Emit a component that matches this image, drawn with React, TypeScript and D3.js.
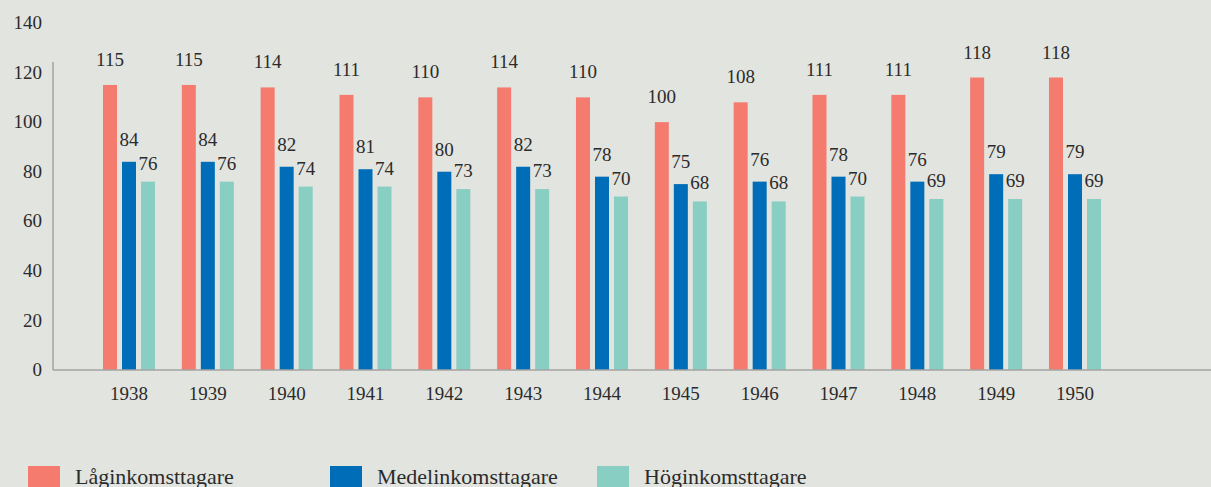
import React from "react";
import * as d3 from "d3";

const years = ["1938","1939","1940","1941","1942","1943","1944","1945","1946","1947","1948","1949","1950"];
const seriesNames = ["Låginkomsttagare", "Medelinkomsttagare", "Höginkomsttagare"];
const lowIncome = [115,115,114,111,110,114,110,100,108,111,111,118,118];
const midIncome = [84,84,82,81,80,82,78,75,76,78,76,79,79];
const highIncome = [76,76,74,74,73,73,70,68,68,70,69,69,69];
const yTicks = [0,20,40,60,80,100,120,140];

const seriesValues = [lowIncome, midIncome, highIncome];
const colors = ["#f47b6e", "#006db8", "#88cec3"];
const labelOffsets = [19, 16, 12];

const W = 1211, H = 487;
const FONT = "'Liberation Serif', 'DejaVu Serif', serif";
const TEXT = "#2b2b2b";
const BG = "#e2e4df";

export default function App() {
  const x0 = 53, x1 = 1151;
  const y = d3.scaleLinear().domain([0, 140]).range([370, 23]);
  const x = d3.scaleBand<string>().domain(years).range([x0, x1]).paddingInner(0.34).paddingOuter(0.634);
  const xs = d3.scaleBand<number>().domain([0, 1, 2]).range([0, x.bandwidth()]).paddingInner(0.263).paddingOuter(0);
  const base = y(0);

  const legendX = [28, 330, 597];

  return (
    <svg width={W} height={H} style={{ position: "absolute", left: 0, top: 0, background: BG }} fontFamily={FONT}>
      <rect width={W} height={H} fill={BG} />
      {yTicks.map((t) => (
        <text key={t} x={42} y={y(t)} dy="0.32em" textAnchor="end" fontSize={19} fill={TEXT}>{t}</text>
      ))}
      {years.map((yr, i) => (
        <g key={yr} transform={`translate(${x(yr)},0)`}>
          {seriesValues.map((vals, s) => (
            <g key={s}>
              <rect x={xs(s)} y={y(vals[i])} width={xs.bandwidth()} height={base - y(vals[i])} fill={colors[s]} />
              <text x={(xs(s) as number) + xs.bandwidth() / 2} y={y(vals[i]) - labelOffsets[s]} textAnchor="middle" fontSize={19} fill={TEXT}>{vals[i]}</text>
            </g>
          ))}
          <text x={x.bandwidth() / 2} y={base + 30} textAnchor="middle" fontSize={19} fill={TEXT}>{yr}</text>
        </g>
      ))}
      <line x1={x0} x2={x0} y1={62} y2={base} stroke="#a3a3a3" strokeWidth={1.5} />
      <line x1={x0} x2={W} y1={base} y2={base} stroke="#a3a3a3" strokeWidth={1.5} />
      {seriesNames.map((n, s) => (
        <g key={n} transform={`translate(${legendX[s]},466)`}>
          <rect x={0} y={0} width={32} height={22} fill={colors[s]} />
          <text x={47} y={18} fontSize={22} fill={TEXT}>{n}</text>
        </g>
      ))}
    </svg>
  );
}
